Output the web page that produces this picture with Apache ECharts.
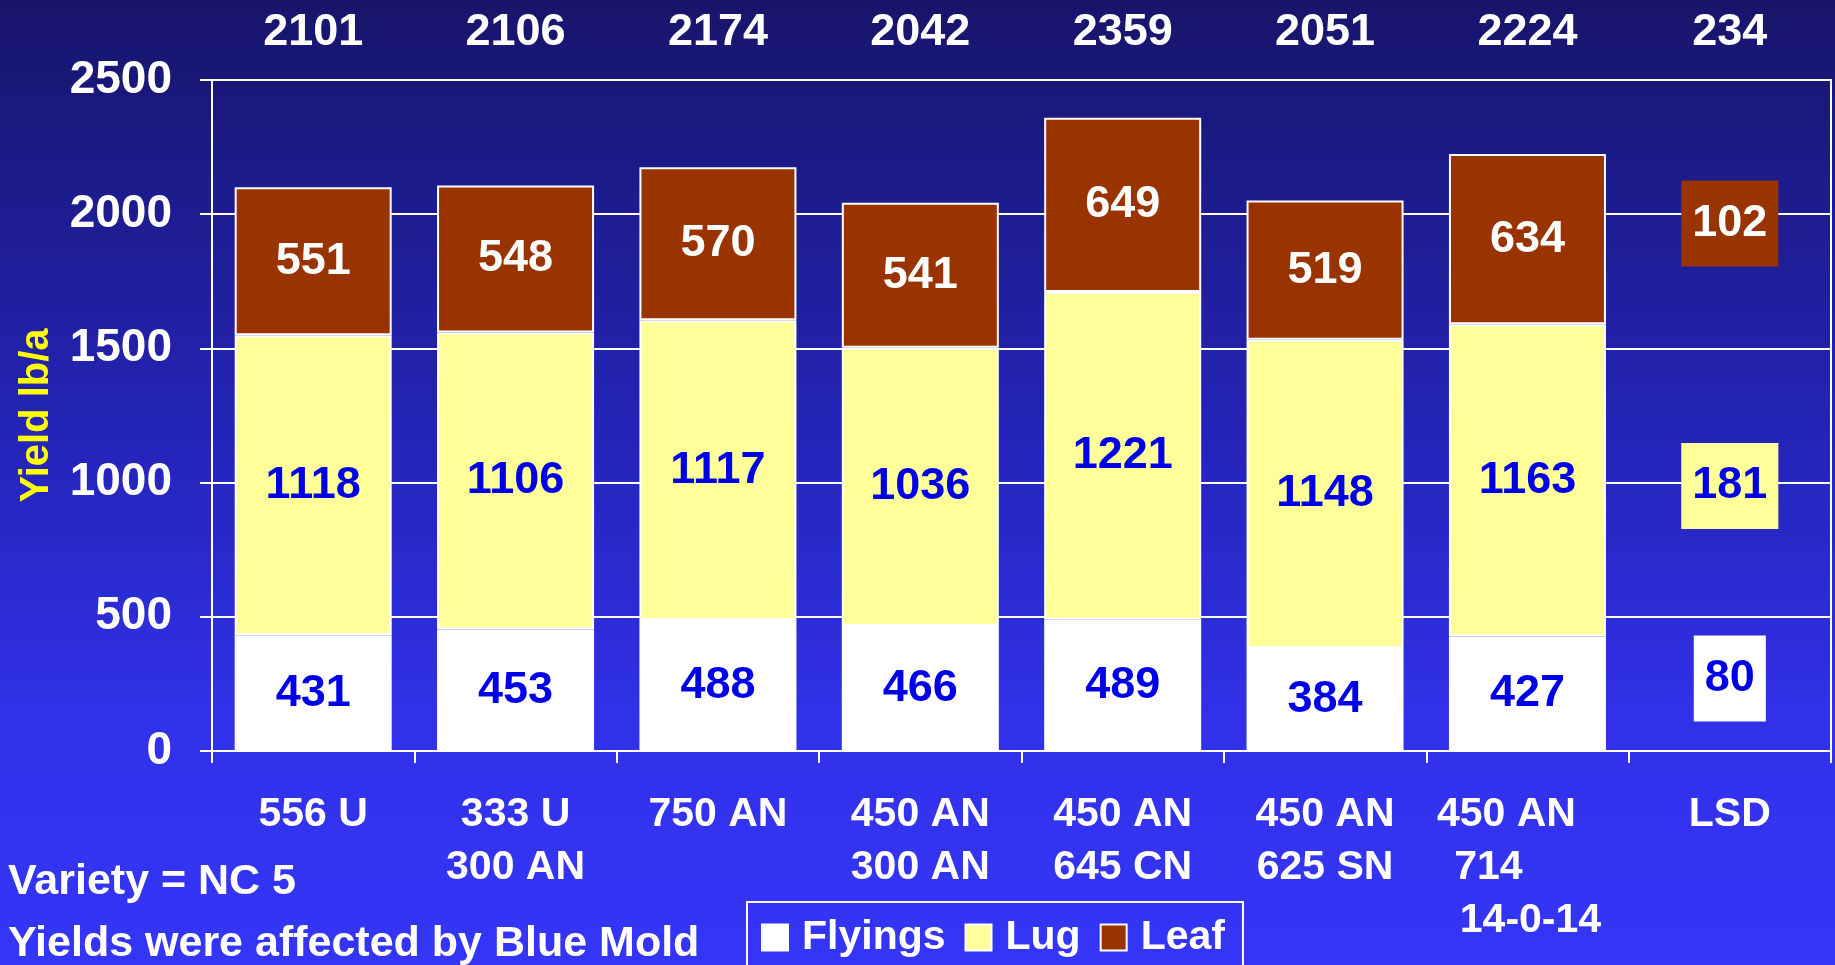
<!DOCTYPE html>
<html>
<head>
<meta charset="utf-8">
<script src="https://cdn.jsdelivr.net/npm/echarts@6/dist/echarts.min.js"></script>
<style>
  html, body { margin: 0; padding: 0; }
  #main { width: 1835px; height: 965px; }
</style>
</head>
<body>
<div id="main"></div>
<script>
// 数据
var categories = ['556 U', '333 U\n300 AN', '750 AN', '450 AN\n300 AN', '450 AN\n645 CN', '450 AN\n625 SN', '450 AN\n714\n14-0-14', 'LSD'];
var totals = ['2101', '2106', '2174', '2042', '2359', '2051', '2224', '234'];
var flyings = [431, 453, 488, 466, 489, 384, 427, null];
var lug = [1118, 1106, 1117, 1036, 1221, 1148, 1163, null];
var leaf = [551, 548, 570, 541, 649, 519, 634, null];
// LSD 值 (Flyings, Lug, Leaf)
var lsdValues = [80, 181, 102];
// LSD 标签放置的 y 位置 (仅用于排版)
var lsdLabelY = [270, 987, 1965];

var FONT = 'Liberation Sans';
var colors = { flyings: '#ffffff', lug: '#ffff99', leaf: '#993300' };
var numBlue = '#0000e8';

var myChart = echarts.init(document.getElementById('main'));

function barSeries(name, data, color, labelColor) {
  return {
    name: name,
    type: 'bar',
    stack: 'yield',
    data: data,
    barWidth: 157,
    itemStyle: { color: color, borderColor: '#ffffff', borderWidth: 2 },
    label: {
      show: true,
      position: 'inside',
      color: labelColor,
      fontFamily: FONT,
      fontWeight: 'bold',
      fontSize: 45
    }
  };
}

var lsdColors = [colors.flyings, colors.lug, colors.leaf];
var lsdText = [numBlue, numBlue, '#ffffff'];
var lsdData = lsdValues.map(function (v, i) {
  return {
    value: ['LSD', lsdLabelY[i]],
    label: {
      formatter: String(v),
      backgroundColor: lsdColors[i],
      color: lsdText[i]
    }
  };
});

var option = {
  backgroundColor: new echarts.graphic.LinearGradient(0, 0, 0, 1, [
    { offset: 0, color: '#17156a' },
    { offset: 0.45, color: '#2424b8' },
    { offset: 0.75, color: '#3131ea' },
    { offset: 1, color: '#3535f8' }
  ]),
  textStyle: { fontFamily: FONT },
  grid: {
    left: 212, right: 4, top: 80, bottom: 214,
    show: true, borderColor: '#ffffff', borderWidth: 2
  },
  legend: {
    data: ['Flyings', 'Lug', 'Leaf'],
    left: 747,
    top: 902,
    padding: [15, 18, 20, 14],
    borderColor: '#ffffff',
    borderWidth: 2,
    itemWidth: 26,
    itemHeight: 26,
    itemGap: 19,
    icon: 'rect',
    textStyle: { color: '#ffffff', fontSize: 41, fontWeight: 'bold', fontFamily: FONT, padding: [0, 0, 0, 9] }
  },
  xAxis: [
    {
      type: 'category',
      data: categories,
      axisLine: { lineStyle: { color: '#ffffff', width: 2 } },
      axisTick: { show: true, length: 12, lineStyle: { color: '#ffffff', width: 2 } },
      axisLabel: {
        color: '#ffffff',
        fontSize: 41,
        fontWeight: 'bold',
        fontFamily: FONT,
        lineHeight: 53,
        margin: 37,
        interval: 0,
        formatter: function (val) {
          if (val.indexOf('14-0-14') >= 0) {
            var p = val.split('\n');
            return '{a|' + p[0] + '}\n{b|' + p[1] + '}\n{c|' + p[2] + '}';
          }
          return val;
        },
        rich: {
          a: { color: '#ffffff', fontSize: 41, fontWeight: 'bold', fontFamily: FONT, lineHeight: 53, padding: [0, 42, 0, 0] },
          b: { color: '#ffffff', fontSize: 41, fontWeight: 'bold', fontFamily: FONT, lineHeight: 53, padding: [0, 78, 0, 0] },
          c: { color: '#ffffff', fontSize: 41, fontWeight: 'bold', fontFamily: FONT, lineHeight: 53, padding: [0, 0, 0, 6] }
        }
      }
    },
    {
      type: 'category',
      position: 'top',
      data: totals,
      axisLine: { show: false },
      axisTick: { show: false },
      axisLabel: {
        color: '#ffffff',
        fontSize: 45,
        fontWeight: 'bold',
        fontFamily: FONT,
        margin: 25,
        interval: 0
      }
    }
  ],
  yAxis: {
    type: 'value',
    min: 0,
    max: 2500,
    interval: 500,
    name: 'Yield lb/a',
    nameLocation: 'middle',
    nameGap: 155,
    nameTextStyle: { color: '#ffff00', fontSize: 40, fontWeight: 'bold', fontFamily: FONT },
    axisLine: { show: true, lineStyle: { color: '#ffffff', width: 2 } },
    axisTick: { show: true, length: 12, lineStyle: { color: '#ffffff', width: 2 } },
    splitLine: { lineStyle: { color: '#ffffff', width: 2 } },
    axisLabel: {
      color: '#ffffff',
      fontSize: 46,
      fontWeight: 'bold',
      fontFamily: FONT,
      margin: 40,
      formatter: function (v) { return String(v); }
    }
  },
  series: [
    barSeries('Flyings', flyings, colors.flyings, numBlue),
    barSeries('Lug', lug, colors.lug, numBlue),
    barSeries('Leaf', leaf, colors.leaf, '#ffffff'),
    {
      name: 'LSD',
      type: 'scatter',
      symbolSize: 0,
      data: lsdData,
      silent: true,
      itemStyle: { opacity: 1 },
      label: {
        show: true,
        position: 'inside',
        opacity: 1,
        fontSize: 45,
        fontWeight: 'bold',
        fontFamily: FONT,
        lineHeight: 50,
        padding: [18, 11]
      }
    }
  ],
  graphic: [
    {
      type: 'text',
      left: 8,
      top: 861,
      style: { text: 'Variety = NC 5', fill: '#ffffff', fontSize: 43, fontWeight: 'bold', fontFamily: FONT }
    },
    {
      type: 'text',
      left: 8,
      top: 923,
      style: { text: 'Yields were affected by Blue Mold', fill: '#ffffff', fontSize: 43, fontWeight: 'bold', fontFamily: FONT }
    }
  ]
};

option && myChart.setOption(option);
</script>
</body>
</html>
